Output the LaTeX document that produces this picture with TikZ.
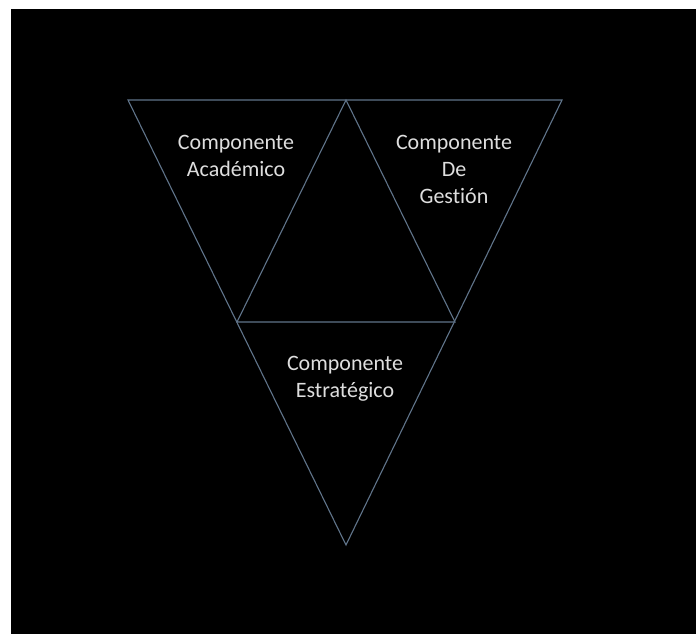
\documentclass[tikz,border=0pt]{standalone}
\usepackage{fontspec}
\setmainfont[Ligatures={NoCommon}]{Carlito}
\usepackage{xcolor}
\definecolor{edgeblue}{RGB}{96,116,138}
\definecolor{labelgray}{RGB}{222,222,222}

\begin{document}
\begin{tikzpicture}[
    x=1pt,
    y=-1pt,
    edge/.style={
        draw,
        color=edgeblue,
        line width=1.1pt,
        line join=miter
    },
    label/.style={
        text=labelgray,
        align=center,
        font=\fontsize{22}{27}\selectfont,
        inner sep=0pt
    }
]

    % Frame
    \useasboundingbox (0,0) rectangle (696,634);
    \fill[white] (0,0) rectangle (696,634);
    \fill[black] (11,9) rectangle (696,634);

    % Corners
    \coordinate (topleft) at (128,100);
    \coordinate (topright) at (562,100);
    \coordinate (topmid) at (346,100);
    \coordinate (bottom) at (346,545);
    \coordinate (midleft) at (237,322);
    \coordinate (midright) at (455,322);

    % Outer and inner triangles
    \path [edge] (topleft) -- (topright) -- (bottom) -- cycle;
    \path [edge] (topmid) -- (midright) -- (midleft) -- cycle;

    % Components
    \node [label] (academico) at (236,156) {Componente\\Académico};
    \node [label] (gestion) at (454,169) {Componente\\De\\Gestión};
    \node [label] (estrategico) at (345,379) {Componente\\Estratégico};

\end{tikzpicture}
\end{document}
